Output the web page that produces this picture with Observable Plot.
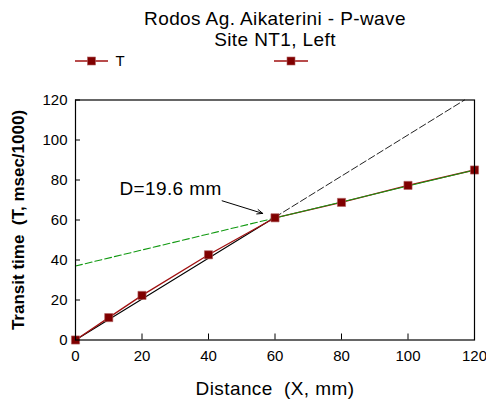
<!DOCTYPE html>
<html>
<head>
<meta charset="utf-8">
<script src="https://cdn.jsdelivr.net/npm/d3@7"></script>
<script src="https://cdn.jsdelivr.net/npm/@observablehq/plot@0.6"></script>
<style>
  html, body { margin: 0; padding: 0; background: #fff; }
  svg text { white-space: pre; }
  .wide text { letter-spacing: 0.4px; }
</style>
</head>
<body>
<div id="chart"></div>
<script>
// Measured data
const distance = [0, 10, 20, 40, 60, 80, 100, 120];
const transit = [0, 11.2, 22.3, 42.6, 61.1, 68.8, 77.3, 85.0];
// Fit lines (endpoints)
const fitNearX = [0, 60];
const fitNearY = [0, 61.4];
const fitNearExtX = [60, 117];
const fitNearExtY = [61.4, 120];
const fitFarDashX = [0, 60];
const fitFarDashY = [37, 61];
const fitFarX = [60, 120];
const fitFarY = [61, 85];
// Ticks
const xTicks = [0, 20, 40, 60, 80, 100, 120];
const yTicks = [0, 20, 40, 60, 80, 100, 120];
// Annotation
const noteText = ["D=19.6 mm"];
const noteX = [13.2];
const noteY = [75.5];
const arrowFrom = [44.1, 69.6];
const arrowTo = [56.3, 63.3];
// Texts
const title1 = "Rodos Ag. Aikaterini - P-wave";
const title2 = "Site NT1, Left";
const xLabel = "Distance  (X, mm)";
const yLabel = "Transit time  (T, msec/1000)";
const legendLabels = ["T", ""];

const pts = distance.map((x, i) => ({x, y: transit[i]}));
const mk = (xs, ys) => xs.map((x, i) => ({x, y: ys[i]}));

const W = 486, H = 403;
const mL = 75, mR = 12, mT = 99.5, mB = 63.5;
const innerW = W - mL - mR, innerH = H - mT - mB;
const font = "'Liberation Sans', Arial, Helvetica, sans-serif";
const dark = "#800000";
const redLine = "#a01010";

const plot = Plot.plot({
  width: W,
  height: H,
  marginLeft: mL,
  marginRight: mR,
  marginTop: mT,
  marginBottom: mB,
  style: {fontFamily: font, fontSize: "15px", color: "#000", background: "#fff", overflow: "visible"},
  x: {domain: [0, 120]},
  y: {domain: [0, 120]},
  marks: [
    Plot.axisX({ticks: xTicks, tickSize: 0, tickPadding: 10, label: null, fontSize: 15}),
    Plot.axisY({ticks: yTicks, tickSize: 0, tickPadding: 8, label: null, fontSize: 15}),
    Plot.tickX(xTicks, {x: d => d, insetTop: innerH - 6, stroke: "#000"}),
    Plot.tickY(yTicks, {y: d => d, insetRight: innerW - 5, stroke: "#000"}),
    Plot.line(mk(fitFarDashX, fitFarDashY), {x: "x", y: "y", stroke: "#119911", strokeWidth: 1.1, strokeDasharray: "7,3"}),
    Plot.line(mk(fitNearExtX, fitNearExtY), {x: "x", y: "y", stroke: "#222", strokeWidth: 1, strokeDasharray: "7,3"}),
    Plot.line(mk(fitNearX, fitNearY), {x: "x", y: "y", stroke: "#000", strokeWidth: 1.1}),
    Plot.line(pts, {x: "x", y: "y", stroke: redLine, strokeWidth: 1.3}),
    Plot.line(mk(fitFarX, fitFarY), {x: "x", y: "y", stroke: "#119911", strokeWidth: 1}),
    Plot.dot(pts, {x: "x", y: "y", symbol: "square", r: 4.6, fill: dark, stroke: "#b06060", strokeWidth: 0.6}),
    Plot.frame({stroke: "#000", strokeWidth: 1.2}),
    Plot.arrow([0], {x1: arrowFrom[0], y1: arrowFrom[1], x2: arrowTo[0], y2: arrowTo[1], stroke: "#000", strokeWidth: 1, headLength: 9, headAngle: 45, bend: 0}),
    Plot.text(noteText, {x: noteX, y: noteY, text: d => d, textAnchor: "start", lineAnchor: "middle", fontSize: 19, className: "wide"}),
    Plot.text([title1], {frameAnchor: "top", dy: -81, text: d => d, textAnchor: "middle", lineAnchor: "middle", fontSize: 19, className: "wide"}),
    Plot.text([title2], {frameAnchor: "top", dy: -60, text: d => d, textAnchor: "middle", lineAnchor: "middle", fontSize: 19, className: "wide"}),
    Plot.text([xLabel], {frameAnchor: "bottom", dy: 49, text: d => d, textAnchor: "middle", lineAnchor: "middle", fontSize: 19, className: "wide"}),
    Plot.text([yLabel], {frameAnchor: "left", dx: -57, rotate: -90, text: d => d, textAnchor: "middle", lineAnchor: "middle", fontSize: 17, fontWeight: "bold"})
  ]
});

// Legend
const svg = d3.select(plot);
const lg = svg.append("g").attr("font-family", font).attr("font-size", 15);
const legendItems = [{x0: 75, x1: 108, label: legendLabels[0]}, {x0: 274, x1: 308, label: legendLabels[1]}];
legendItems.forEach(it => {
  const cy = 61;
  lg.append("line").attr("x1", it.x0).attr("x2", it.x1).attr("y1", cy).attr("y2", cy).attr("stroke", redLine).attr("stroke-width", 1.3);
  const cx = (it.x0 + it.x1) / 2;
  lg.append("rect").attr("x", cx - 4).attr("y", cy - 4).attr("width", 8).attr("height", 8).attr("fill", dark).attr("stroke", "#b06060").attr("stroke-width", 0.6);
  if (it.label) lg.append("text").attr("x", it.x1 + 12).attr("y", cy).attr("dy", "0.35em").text(it.label);
});

document.getElementById("chart").appendChild(plot);
</script>
</body>
</html>
